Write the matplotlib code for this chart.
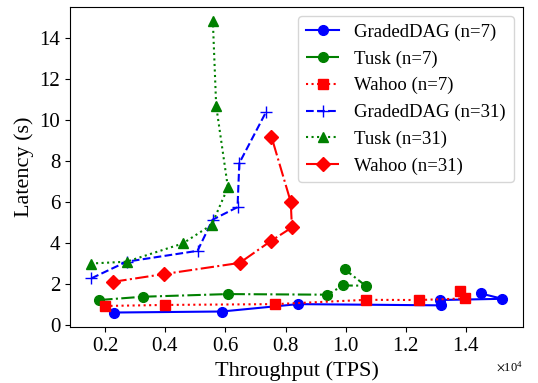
import numpy as np
import matplotlib.pyplot as plt

plt.rcParams['font.family'] = ['Liberation Serif', 'DejaVu Serif']
plt.rcParams['mathtext.fontset'] = 'stix'

# throughput in TPS, latency in seconds
gd7_x = [2290, 5880, 8410, 13180, 13130, 15210, 14490]
gd7_y = [0.62, 0.67, 1.03, 0.97, 1.23, 1.29, 1.55]

tusk7_x = [1800, 3240, 6070, 9390, 9910, 10660, 9970]
tusk7_y = [1.23, 1.39, 1.52, 1.49, 1.94, 1.93, 2.72]

wahoo7_x = [1990, 3990, 7660, 10680, 12430, 13970, 13790]
wahoo7_y = [0.94, 0.99, 1.03, 1.24, 1.23, 1.31, 1.65]

gd31_x = [1540, 2710, 5070, 5570, 6400, 6460, 7340]
gd31_y = [2.29, 3.10, 3.63, 5.15, 5.76, 7.91, 10.38]

tusk31_x = [1510, 2710, 4580, 5540, 6080, 5690, 5580]
tusk31_y = [3.01, 3.10, 3.99, 4.90, 6.72, 10.70, 14.82]

wahoo31_x = [2270, 3970, 6470, 7520, 8210, 8170, 7530]
wahoo31_y = [2.12, 2.50, 3.04, 4.12, 4.77, 6.02, 9.19]

x_ticks = [2000, 4000, 6000, 8000, 10000, 12000, 14000]
y_ticks = [0, 2, 4, 6, 8, 10, 12, 14]

fig = plt.figure(figsize=(5.38, 3.83), dpi=100)
ax = fig.add_axes([0.130, 0.146, 0.842, 0.836])

ax.plot(gd7_x, gd7_y, 'b-o', ms=7, label="GradedDAG (n=7)")
ax.plot(tusk7_x, tusk7_y, 'g-.o', ms=7, label="Tusk (n=7)")
ax.plot(wahoo7_x, wahoo7_y, 'r:s', ms=7, label="Wahoo (n=7)")
ax.plot(gd31_x, gd31_y, 'b--+', ms=8, label="GradedDAG (n=31)")
ax.plot(tusk31_x, tusk31_y, 'g:^', ms=7, label="Tusk (n=31)")
ax.plot(wahoo31_x, wahoo31_y, 'r-.D', ms=7, label="Wahoo (n=31)")

ax.set_xlabel("Throughput (TPS)", fontsize=16)
ax.set_ylabel("Latency (s)", fontsize=16)
ax.set_xticks(x_ticks)
ax.set_yticks(y_ticks)
ax.tick_params(labelsize=15)
ax.ticklabel_format(axis='x', style='sci', scilimits=(0, 0), useMathText=True)
ax.xaxis.get_offset_text().set_fontsize(9)

ax.legend(loc='upper right', fontsize=13.5, handlelength=1.8)

plt.savefig("out.png", dpi=100)
